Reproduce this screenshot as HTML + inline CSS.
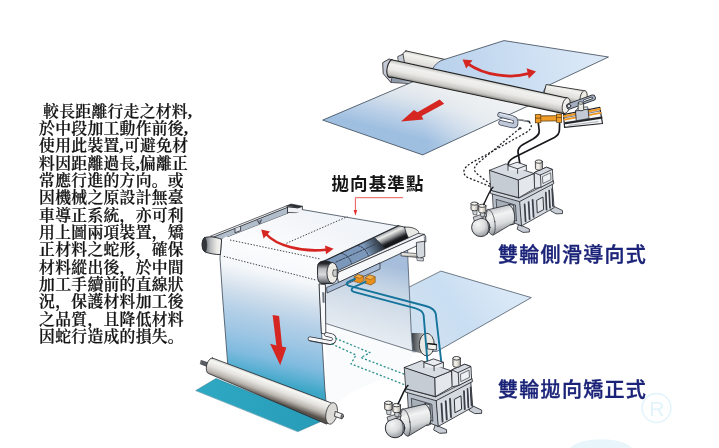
<!DOCTYPE html>
<html lang="zh-CN">
<head>
<meta charset="utf-8">
<title>雙輪導向裝置</title>
<style>
html,body{margin:0;padding:0;background:#fff;}
body{width:719px;height:448px;overflow:hidden;position:relative;}
svg{position:absolute;left:0;top:0;display:block;will-change:transform;}
.para{font-family:"Liberation Serif","Noto Serif CJK SC",serif;font-size:15.8px;letter-spacing:0.3px;font-weight:600;fill:#141414;stroke:#141414;stroke-width:0.22px;}
.ttl{font-family:"Liberation Sans","Noto Sans CJK TC","Noto Sans CJK SC",sans-serif;font-weight:500;font-size:20px;fill:#1b2378;letter-spacing:1.3px;stroke:#1b2378;stroke-width:0.35px;}
.lbl{font-family:"Liberation Sans","Noto Sans CJK TC","Noto Sans CJK SC",sans-serif;font-weight:700;font-size:17.5px;fill:#151515;letter-spacing:1.1px;}
</style>
</head>
<body>
<svg width="719" height="448" viewBox="0 0 719 448">
<defs>
<linearGradient id="gUp" gradientUnits="userSpaceOnUse" x1="440" y1="80" x2="590" y2="45">
<stop offset="0" stop-color="#b9d1ec"/><stop offset="1" stop-color="#dbe9f7"/></linearGradient>
<linearGradient id="gLow" gradientUnits="userSpaceOnUse" x1="478" y1="95" x2="464" y2="150">
<stop offset="0" stop-color="#eef0f2"/><stop offset="0.35" stop-color="#dde5ec"/><stop offset="0.68" stop-color="#bdd1e8"/><stop offset="1" stop-color="#9fbfe1"/></linearGradient>
<linearGradient id="gR1" gradientUnits="userSpaceOnUse" x1="478" y1="78.5" x2="474.4" y2="95.8">
<stop offset="0" stop-color="#c6c6c3"/><stop offset="0.2" stop-color="#f1f1ef"/><stop offset="0.5" stop-color="#eae9e6"/><stop offset="0.78" stop-color="#c9c7c3"/><stop offset="0.93" stop-color="#8a8885"/><stop offset="1" stop-color="#4a4947"/></linearGradient>
<linearGradient id="gR2" gradientUnits="userSpaceOnUse" x1="420" y1="53" x2="417" y2="68">
<stop offset="0" stop-color="#cbcac6"/><stop offset="0.25" stop-color="#f2f2ef"/><stop offset="0.7" stop-color="#dfdeda"/><stop offset="1" stop-color="#a5a4a0"/></linearGradient>
<linearGradient id="gR3" gradientUnits="userSpaceOnUse" x1="566" y1="86" x2="563" y2="100">
<stop offset="0" stop-color="#cbcac6"/><stop offset="0.25" stop-color="#f2f2ef"/><stop offset="0.7" stop-color="#dfdeda"/><stop offset="1" stop-color="#a5a4a0"/></linearGradient>
<linearGradient id="gMot" gradientUnits="userSpaceOnUse" x1="497" y1="208" x2="503" y2="230">
<stop offset="0" stop-color="#c9cccf"/><stop offset="0.3" stop-color="#f2f3f3"/><stop offset="0.7" stop-color="#d9dcdd"/><stop offset="1" stop-color="#9da1a5"/></linearGradient>
<radialGradient id="gDome" gradientUnits="userSpaceOnUse" cx="478" cy="224" r="12">
<stop offset="0" stop-color="#f4f5f5"/><stop offset="0.6" stop-color="#d9dcdd"/><stop offset="1" stop-color="#a3a7ab"/></radialGradient>
<linearGradient id="gCap" x1="0" y1="0" x2="1" y2="0">
<stop offset="0" stop-color="#d9d6cb"/><stop offset="0.4" stop-color="#f6f4ee"/><stop offset="1" stop-color="#aeaba2"/></linearGradient>
<g id="pump" stroke="#23262c" stroke-width="0.8" stroke-linejoin="round" stroke-linecap="round">
 <!-- feet -->
 <path d="M553,206 L562.5,210.5 L562.5,213.6 L556,213.8 L551,211 Z" fill="#c9ced6"/>
 <path d="M519,224.5 L529.4,229 L529.4,232 L523,232.4 L517.5,229.4 Z" fill="#c9ced6"/>
 <path d="M492.5,212 L497,215 L497,218 L492,216 Z" fill="#c9ced6"/>
 <!-- lower body right face (fins) -->
 <path d="M519.6,201 L552.2,183.7 L554.1,207.7 L521.5,225.9 Z" fill="#d5dae1"/>
 <g stroke="#3b3f47" stroke-width="1.7" fill="none">
  <path d="M524.6,204.4 L525.6,221.4"/><path d="M528.6,202 L529.6,219.2"/><path d="M532.6,199.8 L533.6,217"/>
  <path d="M545.8,192.6 L546.6,209.6"/><path d="M549.2,190.6 L550,207.8"/><path d="M552,189 L552.8,206"/>
 </g>
 <g stroke="#eef0f3" stroke-width="0.9" fill="none">
  <path d="M526.5,203.4 L527.5,220.2"/><path d="M530.5,201 L531.5,218"/><path d="M547.5,191.6 L548.3,208.6"/><path d="M550.7,189.8 L551.5,206.8"/>
 </g>
 <path d="M537,200.2 L543,197 L543.6,209.6 L537.6,212.8 Z" fill="#e4e8ec" stroke-width="0.9"/>
 <!-- lower body front face -->
 <path d="M492.7,193.3 L519.6,201 L521.5,225.9 L513.4,222.6 L494,214 Z" fill="#b9c0c9"/>
 <path d="M496.5,199.5 L515.5,205 L516.5,221 L497.5,213.6 Z" fill="#a7afb9" stroke-width="0.7"/>
 <!-- flange -->
 <path d="M490.6,190.2 L519,198 L553.4,180.6 L553.8,183.6 L519.5,201.6 L490.9,193.6 Z" fill="#cfd4db"/>
 <!-- right small box -->
 <path d="M534.6,172.4 L546.5,167.2 L552.4,169.4 L553,181 L541,187.2 L534.6,188.5 Z" fill="#e3e7ec"/>
 <path d="M534.6,172.4 L546.5,167.2 L552.4,169.4 L540.4,175 Z" fill="#d6dbe2"/>
 <path d="M540.4,175 L541,187.2" fill="none"/>
 <path d="M542.8,176.5 L550.6,172.8 L551,179.6 L543.2,183.4 Z" fill="#eef1f4" stroke-width="0.6"/>
 <!-- cap -->
 <path d="M535.4,161.6 L535.4,168.4 A3.5,1.7 0 0 0 542.4,168.4 L542.4,161.6 Z" fill="url(#gCap)"/>
 <ellipse cx="538.9" cy="161.6" rx="3.5" ry="1.7" fill="#f3f1ea"/>
 <!-- left big box -->
 <path d="M489.8,170.2 L518.6,179.8 L519,197.7 L491.2,190.4 Z" fill="#c6ccd4"/>
 <path d="M518.6,179.8 L534,173.5 L534.6,188.5 L519,197.7 Z" fill="#e4e8ec"/>
 <path d="M489.8,170.2 L505.8,163.9 L534,173.5 L518.6,179.8 Z" fill="#d8dde4"/>
 <!-- notch on top -->
 <path d="M508,170.4 L508,165.6 L517,162.2 L526.4,165.4 L526.4,170.2" fill="#e9ecf0"/>
 <path d="M508,165.6 L517.6,168.8 L526.4,165.4 M517.6,168.8 L517.6,173.4" fill="none"/>
 <!-- motor housing -->
 <path d="M509.5,204.4 L513.6,205.4 L514.4,224 L510.6,225 Z" fill="#dfe2e5"/>
 <!-- motor body -->
 <path d="M509,204.8 L489.4,209.4 A4.6,12.8 -14 0 0 493,235.2 L510.6,224.6 A4.6,10 -10 0 0 509,204.8 Z" fill="url(#gMot)"/>
 <ellipse cx="490.6" cy="222.4" rx="4.3" ry="12.7" transform="rotate(-9 490.6 222.4)" fill="url(#gMot)" stroke-width="0.6"/>
 <!-- dome -->
 <circle cx="480.8" cy="227.4" r="9.2" fill="url(#gDome)" stroke-width="0.9"/>
 <path d="M486.6,220 C489,224 489.4,231 486.8,234.6" fill="none" stroke-width="0.7"/>
 <path d="M473.6,217 L485.6,213 L486.6,216.2 L474.6,220.8 Z" fill="#c9ccce" stroke-width="0.7"/>
 <!-- caps on motor -->
 <path d="M472.4,209 L473.2,214.6 L476.8,215 L477.2,209.4 Z" fill="#d0d3d6" stroke-width="0.6"/>
 <path d="M471,203.6 L471,209.2 A3.5,1.6 0 0 0 478,209.2 L478,203.6 Z" fill="url(#gCap)"/>
 <ellipse cx="474.5" cy="203.6" rx="3.5" ry="1.6" fill="#f3f1ea"/>
 <path d="M480,211 L480.8,216.4 L484.4,216.4 L484.8,211.4 Z" fill="#d0d3d6" stroke-width="0.6"/>
 <path d="M478.7,205.8 L478.7,211.4 A3.6,1.6 0 0 0 485.9,211.4 L485.9,205.8 Z" fill="url(#gCap)"/>
 <ellipse cx="482.3" cy="205.8" rx="3.6" ry="1.6" fill="#f3f1ea"/>
 <!-- wire -->
 <path d="M493,187.2 C489.6,190 487.6,197 483.6,204.6" fill="none" stroke="#15171b" stroke-width="1.4"/>
</g>
<linearGradient id="gFront" gradientUnits="userSpaceOnUse" x1="300" y1="240" x2="262" y2="405">
<stop offset="0.08" stop-color="#fdfdfe"/><stop offset="0.235" stop-color="#f4f7fa"/><stop offset="0.32" stop-color="#dfe8f1"/><stop offset="0.38" stop-color="#cfdeec"/><stop offset="0.494" stop-color="#b3cfe7"/><stop offset="0.609" stop-color="#9dc6e4"/><stop offset="0.724" stop-color="#80bbdf"/><stop offset="0.8" stop-color="#5bb0d3"/><stop offset="0.86" stop-color="#3ca6c6"/><stop offset="1" stop-color="#2fa0be"/></linearGradient>
<linearGradient id="gTopS" gradientUnits="userSpaceOnUse" x1="300" y1="210" x2="280" y2="255">
<stop offset="0" stop-color="#f1f4f8"/><stop offset="1" stop-color="#fbfcfd"/></linearGradient>
<linearGradient id="gBackV" gradientUnits="userSpaceOnUse" x1="380" y1="262" x2="360" y2="335">
<stop offset="0" stop-color="#a6bedb"/><stop offset="0.3" stop-color="#c4d4e5"/><stop offset="0.6" stop-color="#d5dfea"/><stop offset="1" stop-color="#e6ecf1"/></linearGradient>
<linearGradient id="gBackS" gradientUnits="userSpaceOnUse" x1="500" y1="285" x2="430" y2="335">
<stop offset="0" stop-color="#d9e8f6"/><stop offset="0.6" stop-color="#c9def2"/><stop offset="1" stop-color="#cfe0f0"/></linearGradient>
<linearGradient id="gDark" gradientUnits="userSpaceOnUse" x1="385" y1="243" x2="366" y2="251.6">
<stop offset="0" stop-color="#1a1d22"/><stop offset="1" stop-color="#1a1d22" stop-opacity="0"/></linearGradient>
<linearGradient id="gAcross" gradientUnits="userSpaceOnUse" x1="385" y1="231.6" x2="391.8" y2="246">
<stop offset="0" stop-color="#8b8f95"/><stop offset="0.25" stop-color="#ececea"/><stop offset="0.5" stop-color="#8e9093"/><stop offset="0.75" stop-color="#1c1e22"/><stop offset="1" stop-color="#0e0f12"/></linearGradient>
<linearGradient id="gFR" x1="0" y1="0" x2="0" y2="1">
<stop offset="0" stop-color="#1a1c1f"/><stop offset="0.12" stop-color="#2a2c30"/><stop offset="0.35" stop-color="#b9bdc1"/><stop offset="0.6" stop-color="#d9dbdd"/><stop offset="0.85" stop-color="#8a8e93"/><stop offset="1" stop-color="#4a4d52"/></linearGradient>
<linearGradient id="gBR" gradientUnits="userSpaceOnUse" x1="275" y1="380" x2="268" y2="399">
<stop offset="0" stop-color="#b9b8b4"/><stop offset="0.18" stop-color="#f6f6f3"/><stop offset="0.45" stop-color="#e4e2de"/><stop offset="0.72" stop-color="#b9b4ae"/><stop offset="0.9" stop-color="#7d7670"/><stop offset="1" stop-color="#57514c"/></linearGradient>
<linearGradient id="gTeal" gradientUnits="userSpaceOnUse" x1="200" y1="385" x2="320" y2="430">
<stop offset="0" stop-color="#2ea8c3"/><stop offset="1" stop-color="#289cb8"/></linearGradient>
<linearGradient id="gCyl" x1="0" y1="0" x2="0" y2="1">
<stop offset="0" stop-color="#cfcdc4"/><stop offset="0.3" stop-color="#f5f3ee"/><stop offset="1" stop-color="#8c8a85"/></linearGradient>
<linearGradient id="gCylD" x1="0" y1="0" x2="1" y2="0">
<stop offset="0" stop-color="#3a3d42"/><stop offset="0.5" stop-color="#8a8d90"/><stop offset="1" stop-color="#e4e3de"/></linearGradient>
<linearGradient id="gCylL" gradientUnits="userSpaceOnUse" x1="205" y1="246" x2="221" y2="246">
<stop offset="0" stop-color="#6e7277"/><stop offset="0.35" stop-color="#b9bcbe"/><stop offset="0.75" stop-color="#ecebe7"/><stop offset="1" stop-color="#f4f4f2"/></linearGradient>
<linearGradient id="gLowW" gradientUnits="userSpaceOnUse" x1="535" y1="108" x2="425" y2="124">
<stop offset="0" stop-color="#f1f3f4" stop-opacity="1"/><stop offset="0.5" stop-color="#eef1f3" stop-opacity="0.6"/><stop offset="1" stop-color="#eef1f3" stop-opacity="0"/></linearGradient>
</defs>
<rect width="719" height="448" fill="#ffffff"/>


<!-- ============ TOP DIAGRAM ============ -->
<g id="topdiag" stroke-linejoin="round" stroke-linecap="round">
<!-- upper sheet -->
<path d="M406,50.9 L452,61 L446,76 L404,66 A3.5,7.6 12 0 1 406,50.9 Z" fill="url(#gR2)" stroke="#2a2a2a" stroke-width="0.9"/>
<path d="M430,76 C432,68 436,62 443.6,59.7 L504,40.6 L608.5,57 L546,86.5 L540,98 Z" fill="url(#gUp)" stroke="#3a4656" stroke-width="0.8"/>
<!-- back roller left part -->

<!-- back roller right part -->
<path d="M546.5,84.6 L583.5,90.6 A3.6,7 12 0 1 582,104.5 L543,99 Z" fill="url(#gR3)" stroke="#2a2a2a" stroke-width="0.9"/>
<ellipse cx="583.6" cy="97.5" rx="3.4" ry="7" transform="rotate(12 583.6 97.5)" fill="#eeebe2" stroke="#2a2a2a" stroke-width="0.8"/>
<!-- left bracket -->
<path d="M383,62.5 L389,59 L393,60 L393,78 L414,81 L411,83.5 L391,82.5 L383.5,74 Z" fill="#c4cbd6" stroke="#2a2a2a" stroke-width="0.9"/>
<path d="M391,82.5 L392,77 L414,81" fill="#8d98a8" stroke="#2a2a2a" stroke-width="0.7"/>
<path d="M398,56.5 L403,54 L405,66 L399,64 Z" fill="#c4cbd6" stroke="#2a2a2a" stroke-width="0.8"/>
<!-- lower sheet -->
<path d="M414,81.3 L322.7,120.1 L422.7,154.9 L531,104.6 Z" fill="url(#gLow)" stroke="none"/>
<path d="M414,81.3 L322.7,120.1 L422.7,154.9 L531,104.6 Z" fill="url(#gLowW)" stroke="#3a4656" stroke-width="0.8"/>
<!-- front roller -->
<path d="M391.5,59.8 L565.6,97.7 A4,7.9 12 0 1 563.8,113.6 L391.2,77 A4,8.6 12 0 1 391.5,59.8 Z" fill="url(#gR1)" stroke="#222" stroke-width="1.1"/>
<ellipse cx="566.2" cy="105.6" rx="3.8" ry="7.9" transform="rotate(12 566.2 105.6)" fill="#efeeea" stroke="#2a2a2a" stroke-width="0.8"/>
<!-- arrows -->
<path d="M468,63.8 C484,75 510,79 528,73.6" fill="none" stroke="#d4241f" stroke-width="2.8" stroke-linecap="butt"/>
<path d="M462.6,59.6 L472.5,60.2 L466.2,68.6 Z" fill="#d62622"/>
<path d="M536,71.6 L526.6,68.2 L528.8,78.4 Z" fill="#d62622"/>
<path d="M439.6,99.4 L444.2,103.8 L421.6,116 L423.4,119.4 L401,121.4 L414,110 L417.4,112.2 Z" fill="#d62622"/>
</g>

<!-- sensor + lines + hoses (top) -->
<g fill="none" stroke="#1d1f24" stroke-width="1.25" stroke-dasharray="2 1.9" stroke-linecap="butt">
<path d="M529,122 C533,125 531.5,129.5 526,132.6 L472,162.6 C463.6,167.2 461,173 467.4,177.4 L492.6,187.4"/>
<path d="M519.6,128.6 L481,160.6 C474.6,165.4 471.6,170 478,174.6 L494,187"/>
</g>
<g fill="none" stroke="#17191d" stroke-width="1.7" stroke-linecap="round" stroke-linejoin="round">
<path d="M538.4,123.6 L539.2,131 C539.4,134.6 537,136.4 533,139 L522.6,144.8 C519,147 518,149 518,152 L521.2,172.4"/>
<path d="M559.6,123.6 L559.4,130 C559.4,133.6 558,135.4 554.4,137.4 L514,157.6 C509.6,160 508,161.6 508,165 L508,170.2"/>
</g>
<g stroke="#23262c" stroke-width="0.8" stroke-linejoin="round" stroke-linecap="round">
<!-- sensor -->
<path d="M500,114.8 L512.6,118 C515.4,118.8 515.6,119.6 515.6,121.4 L515.6,123.6 C515.6,125.8 514,125.9 512,125.4 L501,122.8" fill="none" stroke="#3a4050" stroke-width="5.4"/>
<path d="M500,114.8 L512.6,118 C515.4,118.8 515.6,119.6 515.6,121.4 L515.6,123.6 C515.6,125.8 514,125.9 512,125.4 L501,122.8" fill="none" stroke="#bfc8d8" stroke-width="3.9"/>
<path d="M500.4,114 L512.4,117" fill="none" stroke="#e4e9f0" stroke-width="1.2"/>
<path d="M517.6,119.4 L529.4,121.6" stroke="#33363c" stroke-width="1.5"/>
<path d="M517.6,119.3 L527,121" stroke="#dfe2e8" stroke-width="0.6"/>
<circle cx="520" cy="128.3" r="0.9" fill="#555"/>
<!-- slider assembly -->
<path d="M563.5,114.6 L599.8,107.3 L602.5,123.5 L564.6,127.4 Z" fill="#f6f7f8" stroke-width="1.2"/>
<path d="M564,116.2 L600,109" stroke="#ee9722" stroke-width="2"/>
<path d="M564.4,119.6 L600.6,112.8" stroke="#ee9722" stroke-width="1.8"/>
<path d="M564.2,117.9 L600.2,110.9" stroke="#2a2c30" stroke-width="0.6"/>
<path d="M565.6,123.2 L601.4,117.6" stroke="#24262a" stroke-width="2.2"/>
<path d="M569,125.4 L598,121.6" stroke="#8a9098" stroke-width="0.7"/>
<path d="M575.8,110.7 L588,108.7 L589,118.5 L576.7,120.7 Z" fill="#c3cad5" stroke-width="0.8"/>
<path d="M575.8,110.7 L578,107.9 L587.5,106.8 L588,108.7 Z" fill="#f1f2f4" stroke-width="0.7"/>
<!-- orange cylinder -->
<path d="M537,118.6 L561,118.2" stroke="#5a3a10" stroke-width="6" stroke-linecap="butt"/>
<path d="M537,118.6 L561,118.2" stroke="#f09d28" stroke-width="4.4" stroke-linecap="butt"/>
<path d="M535,118.7 L541.2,118.6 M556.2,118.3 L562,118.2" stroke="#5a3a10" stroke-width="9" stroke-linecap="butt"/>
<path d="M535.7,118.7 L540.5,118.6 M556.9,118.3 L561.3,118.2" stroke="#f09d28" stroke-width="7.6" stroke-linecap="butt"/>
<path d="M535.4,118.2 L541,118.1 M556.4,117.6 L561.8,117.5" stroke="#5a3a10" stroke-width="0.7" stroke-linecap="butt"/>
<!-- links -->
<path d="M569.4,106.2 L592.6,97.8" stroke="#23262c" stroke-width="6.4"/>
<path d="M569.4,106.2 L592.6,97.8" stroke="#a3adbf" stroke-width="4.8"/>
<path d="M584.4,100.6 L591.6,98" stroke="#23262c" stroke-width="2.4"/>
<path d="M584.4,100.6 L591.6,98" stroke="#eef0f4" stroke-width="1.1"/>
<path d="M578.2,103 L578.2,109.6 A2.7,1.2 0 0 0 583.6,109.6 L583.6,103 Z" fill="#e9e9e6"/>
<ellipse cx="580.9" cy="103" rx="2.7" ry="1.2" fill="#f8f8f6"/>
<circle cx="569" cy="106" r="1.8" fill="#d9dbde"/>
</g>
<use href="#pump"/>


<!-- ============ BOTTOM DIAGRAM ============ -->
<g id="botdiag" stroke="#23262c" stroke-width="0.8" stroke-linejoin="round" stroke-linecap="round">
<!-- teal floor -->
<path d="M196,390.4 L216,378.5 L322,421 L298,431.5 Z" fill="url(#gTeal)" stroke="#1d7186" stroke-width="0.5"/>
<!-- back incoming sheet -->
<path d="M441.3,271.2 L531.3,297.6 L437,351.4 L400,352 L400,292 Z" fill="url(#gBackS)" stroke="#3a4656" stroke-width="0.7"/>
<!-- back-bottom roller -->
<path d="M411.6,333 L427,333 L427,355.6 L412.6,350.6 Z" fill="url(#gCylD)" stroke="none"/>
<ellipse cx="426.8" cy="344.6" rx="7.5" ry="11.3" fill="#e9e8e3" stroke-width="0.9"/>
<path d="M428,343.4 L436.4,344.4 L436.4,350 L428,349 Z" fill="#f1f1ee" stroke-width="0.8"/>
<path d="M428,343.6 L436.4,344.6" stroke="#111" stroke-width="1.3"/>
<path d="M325.6,323.4 L412.6,351 L413,356 L400,372 L352,392 L326.6,410 Z" fill="#fafbfc" stroke="none"/>
<!-- back vertical sheet -->
<path d="M325.6,283 L407.6,249 L408,262 L411.2,331 L412.6,351 L325.6,323.4 Z" fill="url(#gBackV)" stroke="#3a4656" stroke-width="0.7"/>
<!-- left rail -->
<path d="M213.4,236.8 L287.9,207 L287.9,213.6 L222.6,239.2 L215,240 Z" fill="#b2bdcc" stroke-width="0.8"/>
<path d="M210.9,236 L287,205.7 L288.2,207 L213.4,237 Z" fill="#f4f5f7" stroke-width="0.7"/>
<path d="M287.9,207 L298,207.8 L302.4,206.4 L302.4,211.6 L297.5,213 L287.9,212.4 Z" fill="#eef0f3" stroke-width="0.8"/>
<path d="M287,205.7 L291,204 L302.4,206.2 L298,207.8 Z" fill="#2a2d33" stroke-width="0.6"/>
<path d="M235,228.6 L235,232.8 L240.6,230.6 L240.6,226.6" fill="#d9dee6" stroke-width="0.8"/>
<path d="M257.4,220.6 L259.6,224 L261.4,219.8" fill="#8b95a5" stroke-width="0.8"/>
<!-- top sheet surface -->
<path d="M221.6,239.4 L286.8,214 L297.5,213 L302.4,209.6 L399,226.2 L323.4,261.6 L300,262 Z" fill="url(#gTopS)" stroke="none"/>
<path d="M302.4,209.6 L399,226.2" fill="none" stroke="#3a4656" stroke-width="0.8"/>
<!-- dark area -->
<path d="M398.3,226 L411,238.6 L336,272 L323.4,261.6 Z" fill="#7b97b9" stroke-width="0.8"/>
<path d="M398.3,226 L411,238.6 L372,256 L360.6,244 Z" fill="url(#gDark)" stroke="none"/>
<path d="M398.3,226 L405,227.5 C406,231 407,235 408.6,238 L411,238.8 L387,249.4 L374.6,237.3 Z" fill="url(#gAcross)" stroke="none"/>
<g fill="none" stroke="#2f3a4b" stroke-width="0.9" stroke-dasharray="2.4 1.3">
<path d="M341,253.4 C346,254 350,258 351.6,263.6"/><path d="M357.6,245.6 C362.6,246.4 366.6,250.4 368.4,256"/>
<path d="M336,262 L376,244"/>
</g>
<path d="M398.3,226 L323.4,261.6" fill="none" stroke-width="0.9"/>
<!-- back-top roller end -->
<path d="M398,225.6 L406,227.4" fill="none" stroke-width="0.9"/>
<path d="M404.6,227.3 C409,226.4 416,228 418.4,231.4 C419.2,233 418.8,234.4 417.6,235 L408.8,238.4 C406.8,235 405.4,231 404.6,227.3 Z" fill="#e9e9e5" stroke-width="0.8"/>
<!-- right rail -->
<path d="M336.6,271.2 L418,233.4 L424.2,234.3 L336.8,273 Z" fill="#e9ecf0" stroke-width="0.7"/>
<path d="M336.8,272.9 L424.2,234.3 L424.7,242.1 L338.8,282.4 Z" fill="#f7f8f9"/>
<path d="M424.2,234.3 L425.6,236 L426,241.6 L424.7,242.1" fill="#c9ced6" stroke-width="0.7"/>
<!-- under rail bracket -->
<path d="M338.6,282.4 L380,262.9 L380,269 L327,293 L326.6,288 Z" fill="#a9bdd6" stroke-width="0.7"/>
<!-- right hanging bracket -->
<path d="M416.8,242.4 L424.6,241.2 L424.8,256.4 L419,258.6 L416.8,255.8 Z" fill="#d3d8df"/>
<path d="M401.4,252.4 L416.8,253.6 L416.8,257.4 L401.4,256 Z" fill="url(#gCyl)" stroke-width="0.6"/>
<path d="M417,257.6 L423.6,258.2 L423.4,261 L417.6,260.6 Z" fill="#d3d8df" stroke-width="0.6"/>
<!-- front sheet -->
<path d="M221.5,239.4 L226,236.6 L300,258 L323.4,261.6 L319.4,284 L321.7,335 L324.8,388 L326.6,412 L228,366 L222.5,296 L220,258 Z" fill="url(#gFront)" stroke="none"/>
<path d="M221.5,239.4 L220,258 L222.5,296 L227.7,364" fill="none" stroke="#3a4656" stroke-width="0.8"/>
<path d="M319.4,284 L321.7,335 L324.8,388 L326.6,408" fill="none" stroke="#3a4656" stroke-width="0.8"/>
<!-- post -->
<path d="M319.4,284 L325.4,284.6 L325.8,334 L321.7,333.4 Z" fill="#f8f9fa" stroke-width="0.8"/>
<path d="M322.2,292 L324.4,292.4 L324.6,303 L322.6,302.6 Z" fill="#6d7480" stroke="none"/>
<!-- front-top roller left end -->
<path d="M204.6,237.6 C209,236 216,237 221.6,239.4 L220.4,254.6 C215,254.6 209,253.4 205,252 C201.4,250 201,240 204.6,237.6 Z" fill="url(#gCylL)" stroke-width="0.9"/>
<path d="M204.6,237.6 C201,240 201.4,250 205,252 C207.4,250 207.4,240 204.6,237.6 Z" fill="#33363b" stroke-width="0.6"/>
<!-- front-top roller right end -->
<path d="M317.6,266 C318,261.6 322,260.4 328,261.4 L333,263 L333,283.4 L322,283.6 C318.6,283 317.6,280 317.6,276 Z" fill="url(#gFR)" stroke-width="1"/>
<ellipse cx="332.4" cy="272.9" rx="5.5" ry="10.4" fill="#ecebe6" stroke-width="0.9"/>
<path d="M333.4,270.2 L337,269.6 L337,276.6 L333.4,276.2 C332.4,274 332.4,272 333.4,270.2 Z" fill="#c9cbcb" stroke-width="0.6"/>
<!-- dotted lines on sheet -->
<g fill="none" stroke="#2a2d33" stroke-width="0.9" stroke-dasharray="1.4 1.6" stroke-linecap="butt">
<path d="M230,240 L320.4,259"/><path d="M223.8,256.3 L316.6,280.2"/><path d="M286.4,243.3 L347.4,216.6"/>
</g>
<!-- orange blocks -->
<path d="M354.6,276.6 L358,274.6 L363.4,276 L363.4,281.2 L360,283 L354.6,281.6 Z" fill="#e8901d" stroke="#7a4a10" stroke-width="0.6"/>
<path d="M354.6,276.6 L358,274.6 L363.4,276 L360,278 Z" fill="#f5b04a" stroke="#7a4a10" stroke-width="0.5"/>
<path d="M365.2,277.6 L369.6,275 L375.2,276.8 L375.2,282.4 L370.8,285 L365.2,283.2 Z" fill="#e8901d" stroke="#7a4a10" stroke-width="0.6"/>
<path d="M365.2,277.6 L369.6,275 L375.2,276.8 L370.8,279.4 Z" fill="#f5b04a" stroke="#7a4a10" stroke-width="0.5"/>
<!-- blue hoses -->
<g fill="none" stroke="#15739c" stroke-width="1.9">
<path d="M355,278.8 L348.6,281.6 C345.8,283 346,285 349.2,285.8 L425.7,306 C432,307.8 435,309.6 435.8,314 L441.9,367.4"/>
<path d="M365.6,281.8 L354,287 C350.6,288.8 350.8,291 353.8,291.8 L415,308.2 C420.6,309.8 423,311.4 423.6,315 L427.4,361"/>
</g>
<!-- sensor -->
<g transform="translate(0 1.3)">
<path d="M310,337.5 L329,341 C333,341.7 334.8,339.2 334.2,336.8 C333.8,335 332.4,334.5 330,334 L326.5,333.2" fill="none" stroke="#2b2e35" stroke-width="4.6"/>
<path d="M310,337.5 L329,341 C333,341.7 334.8,339.2 334.2,336.8 C333.8,335 332.4,334.5 330,334 L326.5,333.2" fill="none" stroke="#f4f6f8" stroke-width="3.1"/>
<path d="M310,339.7 L329,343.2 C332,343.6 334,342.6 335,341" fill="none" stroke="#2b2e35" stroke-width="0.7"/>
</g>
<!-- teal dotted -->
<g fill="none" stroke="#2a8e8c" stroke-width="1.3" stroke-dasharray="2 2" stroke-linecap="butt">
<path d="M335.4,338.4 L370,352.6 L361,357.6 L410,376.4"/>
<path d="M331.6,343.8 L356,355 L351,363.9 L409,386.4"/>
</g>
<!-- bottom roller -->
<path d="M201.4,360.4 L208,362.8 L207,366.4 L200.6,364 Z" fill="#5b5e62" stroke-width="0.6"/>

<path d="M212.4,358 L329.4,402.2 A6,11.2 14 0 1 326.4,424 L208.8,373.6 A4,8 14 0 1 212.4,358 Z" fill="url(#gBR)"/>
<ellipse cx="331.6" cy="413.4" rx="5.6" ry="11" transform="rotate(12 331.6 413.4)" fill="#dddbd6" stroke-width="0.7"/>
<path d="M335.6,411.6 L342.6,414 L341.8,418.8 L334.8,416.4 Z" fill="#f0efec" stroke-width="0.8"/>
<ellipse cx="342.2" cy="416.4" rx="1.2" ry="2.4" transform="rotate(14 342.2 416.4)" fill="#8b8a87" stroke-width="0.6"/>
<!-- arrows -->
<path d="M272.6,315 L279.1,316 L282.1,346.6 L286.4,347.4 L280.2,365.2 L270.1,343.8 L276.4,345.6 Z" fill="#d62622" stroke="none"/>
<path d="M266,234 C276,245 300,252.6 326,249.8" fill="none" stroke="#d62622" stroke-width="2.6" stroke-linecap="butt"/>
<path d="M261.2,229.6 L270,231.4 L263.6,238.6 Z" fill="#d62622" stroke="none"/>
<path d="M333.6,248.8 L325,245.4 L326,254.2 Z" fill="#d62622" stroke="none"/>
</g>
<use href="#pump" transform="translate(404.6 367.4) scale(1.06) translate(-489.8 -170.2)"/>
<!-- label pointer -->
<path d="M403,197.7 L355.4,197.7 L355.4,211" fill="none" stroke="#e0312c" stroke-width="0.8"/>
<path d="M353.6,210 L357.2,210 L355.4,215.8 Z" fill="#e0312c"/>
<!-- watermark -->
<g fill="none" stroke="#e2f4fb" stroke-width="1.5">
<circle cx="656.5" cy="408" r="14.4"/>
</g>
<text x="656.8" y="416" text-anchor="middle" font-family="'Liberation Sans',sans-serif" font-size="21" fill="#e2f4fb">R</text>
<path d="M570,448 C580,436.6 622,436 632,448 Z" fill="#e8f6fc"/>

<!-- ============ paragraph ============ -->
<g class="para">
<text x="43.1" y="116.6">較長距離行走之材料,</text>
<text x="39.1" y="133.95">於中段加工動作前後,</text>
<text x="39.1" y="151.3">使用此裝置,<tspan x="124.0">可避免材</tspan></text>
<text x="39.1" y="168.65">料因距離過長,<tspan x="139.8">偏離正</tspan></text>
<text x="39.1" y="186">常應行進的方向。或</text>
<text x="39.1" y="203.35">因機械之原設計無臺</text>
<text x="39.1" y="220.7">車導正系統，亦可利</text>
<text x="39.1" y="238.05">用上圖兩項裝置，矯</text>
<text x="39.1" y="255.4">正材料之蛇形，確保</text>
<text x="39.1" y="272.75">材料縱出後，於中間</text>
<text x="39.1" y="290.1">加工手續前的直線狀</text>
<text x="39.1" y="307.45">況，保護材料加工後</text>
<text x="39.1" y="324.8">之品質，且降低材料</text>
<text x="39.1" y="342.15">因蛇行造成的損失。</text>
</g>

<!-- ============ titles ============ -->
<text class="ttl" x="498" y="261.6">雙輪側滑導向式</text>
<text class="ttl" x="498" y="397.4">雙輪拋向矯正式</text>
<text class="lbl" x="331.5" y="190">拋向基準點</text>

</svg>
</body>
</html>
